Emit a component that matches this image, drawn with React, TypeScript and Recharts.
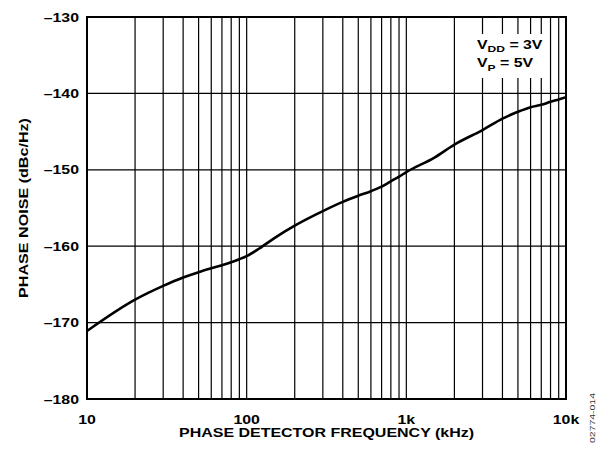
import React from "react"
import { LineChart, Line, XAxis, YAxis, CartesianGrid, ReferenceArea } from "recharts"

// phase detector frequency (kHz) and phase noise (dBc/Hz)
const freq = [10, 20, 30, 40, 50, 60, 70, 80, 90, 100, 120, 150, 200, 300, 400, 500, 600, 700, 800, 900, 1000, 1500, 2000, 3000, 4000, 5000, 6000, 7000, 8000, 9000, 10000]
const noise = [-171.1, -167.0, -165.2, -164.1, -163.4, -162.9, -162.5, -162.1, -161.7, -161.3, -160.3, -158.9, -157.3, -155.4, -154.2, -153.4, -152.8, -152.2, -151.5, -150.9, -150.3, -148.4, -146.7, -144.8, -143.3, -142.4, -141.8, -141.5, -141.1, -140.8, -140.5]

const xTicks = [10, 20, 30, 40, 50, 60, 70, 80, 90, 100, 200, 300, 400, 500, 600, 700, 800, 900, 1000, 2000, 3000, 4000, 5000, 6000, 7000, 8000, 9000, 10000]
const xLabels: Record<number, string> = { 10: "10", 100: "100", 1000: "1k", 10000: "10k" }
const yTicks = [-180, -170, -160, -150, -140, -130]

const data = freq.map((f, i) => ({ f, n: noise[i] }))

const FONT = "'Liberation Sans', Arial, Helvetica, sans-serif"
const STRETCH = 1.27

const XTick = (props: any) => {
  const { x, y, payload } = props
  const label = xLabels[payload.value]
  if (!label) return <g />
  return (
    <text
      transform={`translate(${x},${y + 25}) scale(${STRETCH},1)`}
      textAnchor="middle"
      fontFamily={FONT}
      fontWeight="bold"
      fontSize={12.5}
      fill="#000"
    >
      {label}
    </text>
  )
}

const YTick = (props: any) => {
  const { x, y, payload } = props
  return (
    <text
      transform={`translate(${x - 8},${y + 4.5}) scale(${STRETCH},1)`}
      textAnchor="end"
      fontFamily={FONT}
      fontWeight="bold"
      fontSize={12.5}
      fill="#000"
    >
      {String(payload.value).replace("-", "\u2013")}
    </text>
  )
}

export default function App() {
  return (
    <div style={{ position: "absolute", left: 0, top: 0, width: 605, height: 451, background: "#fff" }}>
      <LineChart width={605} height={451} data={data} margin={{ top: 17, right: 39, bottom: 0, left: 0 }}>
        <CartesianGrid stroke="#000" strokeWidth={1.2} />
        <XAxis
          dataKey="f"
          type="number"
          scale="log"
          domain={[10, 10000]}
          ticks={xTicks}
          interval={0}
          allowDataOverflow
          height={52}
          tickSize={0}
          tickMargin={0}
          tickLine={false}
          axisLine={false}
          tick={XTick}
          label={{
            content: (p: any) => {
              const vb = p.viewBox
              return (
                <text
                  x={vb.x + vb.width / 2}
                  y={vb.y + 38}
                  textAnchor="middle"
                  fontFamily={FONT}
                  fontWeight="bold"
                  fontSize={12.5}
                  textLength={295}
                  lengthAdjust="spacingAndGlyphs"
                  fill="#000"
                >
                  PHASE DETECTOR FREQUENCY (kHz)
                </text>
              )
            },
          }}
        />
        <YAxis
          type="number"
          domain={[-180, -130]}
          ticks={yTicks}
          interval={0}
          width={87}
          tickSize={0}
          tickMargin={0}
          tickLine={false}
          axisLine={false}
          tick={YTick}
          label={{
            content: (p: any) => {
              const vb = p.viewBox
              const cy = vb.y + vb.height / 2
              return (
                <text
                  x={28}
                  y={cy}
                  transform={`rotate(-90, 28, ${cy})`}
                  textAnchor="middle"
                  fontFamily={FONT}
                  fontWeight="bold"
                  fontSize={12.5}
                  textLength={180}
                  lengthAdjust="spacingAndGlyphs"
                  fill="#000"
                >
                  PHASE NOISE (dBc/Hz)
                </text>
              )
            },
          }}
        />
        <ReferenceArea x1={10} x2={10000} y1={-180} y2={-130} fill="none" stroke="#000" strokeWidth={2} fillOpacity={0} />
        <Line
          type="monotone"
          dataKey="n"
          stroke="#000"
          strokeWidth={2.6}
          dot={false}
          isAnimationActive={false}
        />
      </LineChart>
      <svg width={605} height={451} style={{ position: "absolute", left: 0, top: 0, pointerEvents: "none" }}>
        <rect x={476} y={34} width={71} height={44} fill="#fff" />
        <g transform={`translate(477,48.7) scale(${STRETCH},1)`} fontFamily={FONT} fontWeight="bold" fontSize={12.5} fill="#000">
          <text x={0} y={0}>
            V<tspan fontSize={9.5} dy={3.5}>DD</tspan>
            <tspan dy={-3.5}> = 3V</tspan>
          </text>
        </g>
        <g transform={`translate(477,67.3) scale(${STRETCH},1)`} fontFamily={FONT} fontWeight="bold" fontSize={12.5} fill="#000">
          <text x={0} y={0}>
            V<tspan fontSize={9.5} dy={3.5}>P</tspan>
            <tspan dy={-3.5}> = 5V</tspan>
          </text>
        </g>
        <text
          x={595}
          y={418}
          transform="rotate(-90, 595, 418)"
          textAnchor="middle"
          fontFamily={FONT}
          fontSize={8}
          textLength={50}
          lengthAdjust="spacingAndGlyphs"
          fill="#333"
        >
          02774-014
        </text>
      </svg>
    </div>
  )
}
